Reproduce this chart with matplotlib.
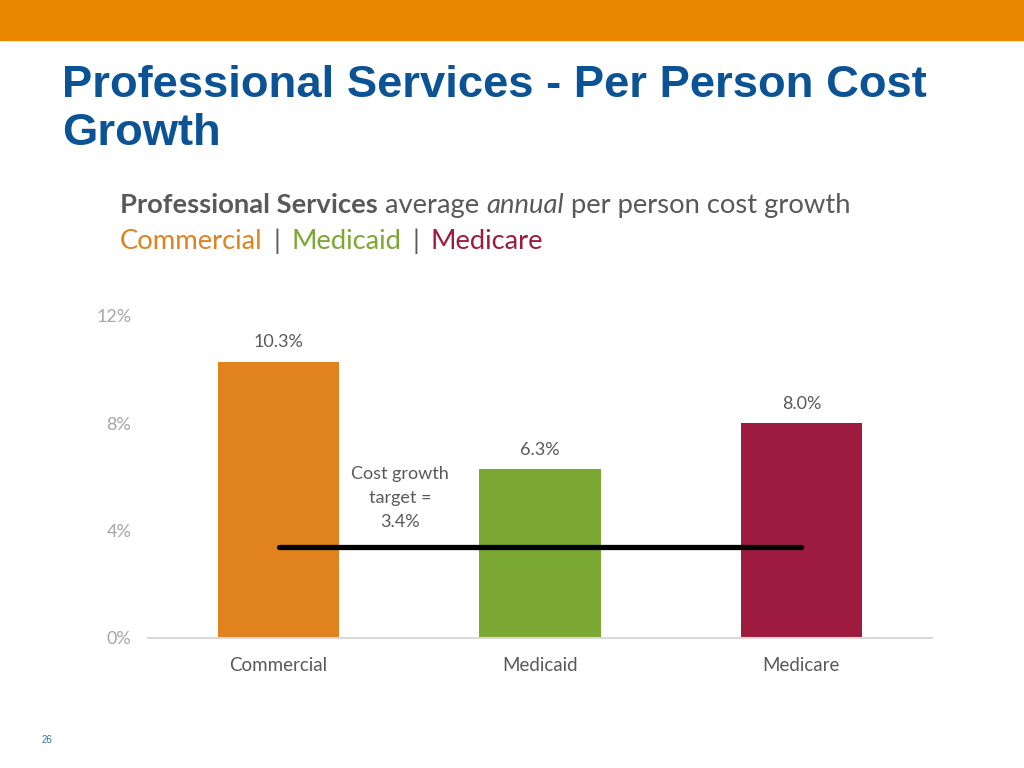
import matplotlib
matplotlib.use("Agg")
import matplotlib.pyplot as plt

categories = ["Commercial", "Medicaid", "Medicare"]
values = [10.3, 6.3, 8.0]
value_labels = ["10.3%", "6.3%", "8.0%"]
bar_colors = ["#E0821E", "#7BA832", "#9E1B40"]
yticks = [0, 4, 8, 12]
ytick_labels = ["0%", "4%", "8%", "12%"]
target = 3.4
target_label = "Cost growth\ntarget =\n3.4%"

W, H = 1024, 768
fig = plt.figure(figsize=(W / 100, H / 100), dpi=100)
fig.patch.set_facecolor("white")

# top orange band
fig.patches.append(plt.Rectangle((0, 1 - 40 / H), 1, 40 / H, transform=fig.transFigure,
                                 color="#E98800", zorder=0))

# title (two lines)
for line, yb in [("Professional Services - Per Person Cost", 97), ("Growth", 145)]:
    fig.text(62 / W, 1 - yb / H, line, ha="left", va="baseline", fontsize=32.7,
             fontweight="bold", color="#0B5394", family="Liberation Sans")

# subtitle, built from pieces
sub_fs = 19.7
def seq(pieces, x0, y0):
    fig.canvas.draw()
    r = fig.canvas.get_renderer()
    x = x0
    for txt, color, weight, style, gap in pieces:
        x += gap
        t = fig.text(x / W, 1 - y0 / H, txt, ha="left", va="baseline", fontsize=sub_fs,
                     color=color, fontweight=weight, fontstyle=style, family="Lato")
        bb = t.get_window_extent(renderer=r)
        x += bb.width + gap

seq([("Professional Services", "#595959", "bold", "normal", 0),
     (" average ", "#595959", "normal", "normal", 0),
     ("annual", "#595959", "normal", "italic", 0),
     (" per person cost growth", "#595959", "normal", "normal", 0)], 120, 213)
seq([(categories[0], "#E0821E", "normal", "normal", 0),
     ("|", "#595959", "normal", "normal", 11),
     (categories[1], "#7BA832", "normal", "normal", 0),
     ("|", "#595959", "normal", "normal", 11),
     (categories[2], "#9E1B40", "normal", "normal", 0)], 120, 249)

# axes
left, right = 148 / W, 932 / W
bottom, top = 1 - 638 / H, 1 - 316 / H
ax = fig.add_axes([left, bottom, right - left, top - bottom])
x = list(range(len(categories)))
ax.bar(x, values, width=0.464, color=bar_colors, zorder=2)
ax.set_xlim(-0.5, 2.5)
ax.set_ylim(0, 12)
ax.set_yticks(yticks)
ax.set_yticklabels(ytick_labels)
ax.set_xticks(x)
ax.set_xticklabels(categories)
for s in ["top", "right", "left"]:
    ax.spines[s].set_visible(False)
ax.spines["bottom"].set_color("#D9D9D9")
ax.spines["bottom"].set_linewidth(1.5)
ax.tick_params(axis="both", length=0)
ax.tick_params(axis="y", labelsize=13, labelcolor="#A6A6A6", pad=12)
ax.tick_params(axis="x", labelsize=13.5, labelcolor="#595959", pad=14)
for lab in ax.get_xticklabels() + ax.get_yticklabels():
    lab.set_family("Lato")

for xi, v, lab in zip(x, values, value_labels):
    ax.text(xi, v + 0.42, lab, ha="center", va="bottom", fontsize=13,
            color="#595959", family="Lato")

ax.plot([0, 2], [target, target], color="black", lw=3.8, solid_capstyle="round", zorder=3)
ax.text(0.464, 5.22, target_label, ha="center", va="center", fontsize=13,
        color="#595959", family="Lato", linespacing=1.6)

fig.text(47 / W, 1 - 740 / H, "26", ha="center", va="center", fontsize=7,
         color="#3A6EA5", family="Liberation Sans")

fig.savefig("out.png", dpi=100)
